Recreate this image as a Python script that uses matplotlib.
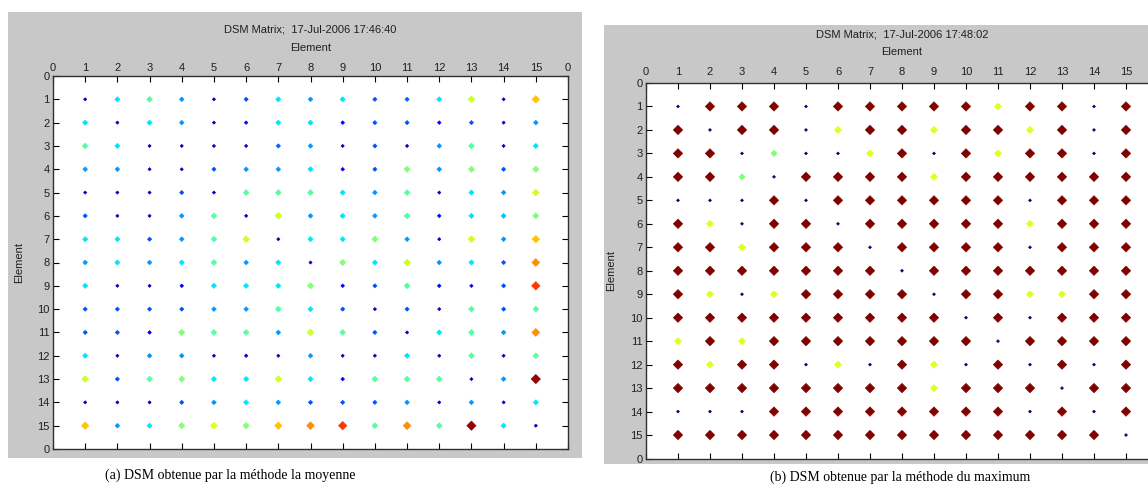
import matplotlib
matplotlib.use('Agg')
import matplotlib.pyplot as plt
from matplotlib.patches import Rectangle
import numpy as np

# ---------------- data ----------------
elements = list(range(1, 16))
tick_positions = list(range(17))
tick_labels = [str(i) for i in range(16)] + ['0']

title_a = "DSM Matrix;  17-Jul-2006 17:46:40"
title_b = "DSM Matrix;  17-Jul-2006 17:48:02"
caption_a = "(a) DSM obtenue par la méthode la moyenne"
caption_b = "(b) DSM obtenue par la méthode du maximum"

# values (0..1) read from colour (jet colormap) of each cell, row = element i, col = element j
mean_dsm = [
    [0.05, 0.35, 0.45, 0.27, 0.05, 0.20, 0.35, 0.27, 0.35, 0.20, 0.22, 0.35, 0.60, 0.05, 0.70],
    [0.35, 0.05, 0.35, 0.27, 0.05, 0.10, 0.35, 0.35, 0.12, 0.20, 0.20, 0.12, 0.20, 0.05, 0.27],
    [0.45, 0.35, 0.05, 0.05, 0.05, 0.05, 0.22, 0.27, 0.05, 0.20, 0.06, 0.27, 0.45, 0.05, 0.35],
    [0.27, 0.27, 0.05, 0.03, 0.20, 0.27, 0.27, 0.35, 0.12, 0.20, 0.51, 0.27, 0.51, 0.20, 0.51],
    [0.05, 0.05, 0.05, 0.20, 0.05, 0.45, 0.45, 0.45, 0.35, 0.27, 0.45, 0.05, 0.35, 0.27, 0.60],
    [0.20, 0.05, 0.05, 0.27, 0.45, 0.05, 0.60, 0.27, 0.35, 0.27, 0.45, 0.12, 0.35, 0.32, 0.51],
    [0.35, 0.35, 0.20, 0.27, 0.45, 0.60, 0.05, 0.35, 0.35, 0.51, 0.27, 0.05, 0.60, 0.27, 0.70],
    [0.27, 0.35, 0.27, 0.35, 0.45, 0.27, 0.35, 0.05, 0.51, 0.35, 0.60, 0.27, 0.35, 0.20, 0.76],
    [0.35, 0.05, 0.05, 0.12, 0.35, 0.35, 0.35, 0.51, 0.12, 0.20, 0.45, 0.12, 0.08, 0.20, 0.85],
    [0.20, 0.20, 0.20, 0.20, 0.27, 0.27, 0.45, 0.35, 0.20, 0.05, 0.20, 0.05, 0.45, 0.20, 0.45],
    [0.20, 0.20, 0.12, 0.51, 0.45, 0.45, 0.27, 0.60, 0.45, 0.20, 0.05, 0.35, 0.45, 0.27, 0.76],
    [0.35, 0.05, 0.27, 0.27, 0.05, 0.10, 0.05, 0.27, 0.05, 0.05, 0.35, 0.05, 0.45, 0.05, 0.45],
    [0.60, 0.20, 0.45, 0.51, 0.35, 0.35, 0.60, 0.35, 0.12, 0.45, 0.45, 0.45, 0.05, 0.27, 0.98],
    [0.05, 0.05, 0.05, 0.20, 0.27, 0.35, 0.27, 0.20, 0.20, 0.20, 0.27, 0.05, 0.27, 0.05, 0.35],
    [0.70, 0.27, 0.35, 0.51, 0.62, 0.51, 0.70, 0.76, 0.85, 0.45, 0.76, 0.45, 0.98, 0.35, 0.05],
]

max_dsm = [
    [0.0, 1.0, 1.0, 1.0, 0.0, 1.0, 1.0, 1.0, 1.0, 1.0, 0.62, 1.0, 1.0, 0.0, 1.0],
    [1.0, 0.0, 1.0, 1.0, 0.0, 0.62, 1.0, 1.0, 0.62, 1.0, 1.0, 0.62, 1.0, 0.0, 1.0],
    [1.0, 1.0, 0.0, 0.5, 0.0, 0.0, 0.62, 1.0, 0.0, 1.0, 0.62, 1.0, 1.0, 0.0, 1.0],
    [1.0, 1.0, 0.5, 0.0, 1.0, 1.0, 1.0, 1.0, 0.62, 1.0, 1.0, 1.0, 1.0, 1.0, 1.0],
    [0.0, 0.0, 0.0, 1.0, 0.0, 1.0, 1.0, 1.0, 1.0, 1.0, 1.0, 0.0, 1.0, 1.0, 1.0],
    [1.0, 0.62, 0.0, 1.0, 1.0, 0.0, 1.0, 1.0, 1.0, 1.0, 1.0, 0.62, 1.0, 1.0, 1.0],
    [1.0, 1.0, 0.62, 1.0, 1.0, 1.0, 0.0, 1.0, 1.0, 1.0, 1.0, 0.0, 1.0, 1.0, 1.0],
    [1.0, 1.0, 1.0, 1.0, 1.0, 1.0, 1.0, 0.0, 1.0, 1.0, 1.0, 1.0, 1.0, 1.0, 1.0],
    [1.0, 0.62, 0.0, 0.62, 1.0, 1.0, 1.0, 1.0, 0.0, 1.0, 1.0, 0.62, 0.62, 1.0, 1.0],
    [1.0, 1.0, 1.0, 1.0, 1.0, 1.0, 1.0, 1.0, 1.0, 0.0, 1.0, 0.0, 1.0, 1.0, 1.0],
    [0.62, 1.0, 0.62, 1.0, 1.0, 1.0, 1.0, 1.0, 1.0, 1.0, 0.0, 1.0, 1.0, 1.0, 1.0],
    [1.0, 0.62, 1.0, 1.0, 0.0, 0.62, 0.0, 1.0, 0.62, 0.0, 1.0, 0.0, 1.0, 0.0, 1.0],
    [1.0, 1.0, 1.0, 1.0, 1.0, 1.0, 1.0, 1.0, 0.62, 1.0, 1.0, 1.0, 0.0, 1.0, 1.0],
    [0.0, 0.0, 0.0, 1.0, 1.0, 1.0, 1.0, 1.0, 1.0, 1.0, 1.0, 0.0, 1.0, 0.0, 1.0],
    [1.0, 1.0, 1.0, 1.0, 1.0, 1.0, 1.0, 1.0, 1.0, 1.0, 1.0, 1.0, 1.0, 1.0, 0.0],
]

# ---------------- figure ----------------
W, H = 1148, 486
fig = plt.figure(figsize=(W / 100, H / 100), dpi=100)
fig.patch.set_facecolor('white')

SANS = ['Liberation Sans', 'DejaVu Sans']
SERIF = ['Liberation Serif', 'DejaVu Serif']
PANEL = '#c8c8c8'
TXT = '#202020'
FS = 8


def fig_rect(x0, y0, x1, y1):
    return [x0 / W, 1 - y1 / H, (x1 - x0) / W, (y1 - y0) / H]


def add_panel(x0, y0, x1, y1):
    r = fig_rect(x0, y0, x1, y1)
    fig.patches.append(Rectangle((r[0], r[1]), r[2], r[3], transform=fig.transFigure,
                                 facecolor=PANEL, edgecolor='none', zorder=-10))


def draw_dsm(rect, values, title, xlabels, tick_pad, xlabel_pad, title_pad, ylabel_pad):
    ax = fig.add_axes(rect)
    vals = np.array(values, dtype=float)
    jj, ii = np.meshgrid(elements, elements)
    v = vals.ravel()
    width_px = 3.0 + 6.5 * v
    ms = width_px / (1.389 * 1.414)
    ax.scatter(jj.ravel(), ii.ravel(), c=v, cmap='jet', vmin=0, vmax=1,
               s=ms ** 2, marker='D', edgecolors='face', linewidths=0.4, zorder=3)
    ax.set_xlim(0, 16)
    ax.set_ylim(16, 0)
    ax.set_facecolor('white')
    ax.xaxis.tick_top()
    ax.xaxis.set_label_position('top')
    ax.set_xticks(tick_positions)
    ax.set_xticklabels(xlabels, fontsize=FS, family=SANS, color=TXT)
    ax.set_yticks(tick_positions)
    ax.set_yticklabels(tick_labels, fontsize=FS, family=SANS, color=TXT)
    ax.tick_params(which='both', direction='in', length=4, width=0.8,
                   top=True, bottom=True, left=True, right=True, pad=2.5)
    ax.tick_params(axis='x', pad=tick_pad)
    for s in ax.spines.values():
        s.set_linewidth(1.0)
        s.set_color('#303030')
    ax.set_xlabel('Element', fontsize=FS, family=SANS, labelpad=xlabel_pad, color=TXT)
    ax.set_ylabel('Element', fontsize=FS, family=SANS, labelpad=ylabel_pad, color=TXT)
    ax.set_title(title, fontsize=FS, family=SANS, pad=title_pad, color=TXT)
    return ax


# left panel
add_panel(8, 12, 582, 458)
draw_dsm(fig_rect(53, 76, 568, 449), mean_dsm, title_a, tick_labels,
         tick_pad=2.5, xlabel_pad=8.5, title_pad=31.5, ylabel_pad=9.5)

# right panel (cropped at the right edge in the reference)
add_panel(604, 25, 1148, 464)
right_xlabels = tick_labels[:-1] + ['']
draw_dsm(fig_rect(646, 83, 1158, 458.5), max_dsm, title_b, right_xlabels,
         tick_pad=4.5, xlabel_pad=8.5, title_pad=33, ylabel_pad=10)

fig.text(230 / W, 1 - 475 / H, caption_a, ha='center', va='center', fontsize=10, family=SERIF)
fig.text(900 / W, 1 - 477 / H, caption_b, ha='center', va='center', fontsize=10, family=SERIF)

fig.savefig('out.png', dpi=100, facecolor='white')
